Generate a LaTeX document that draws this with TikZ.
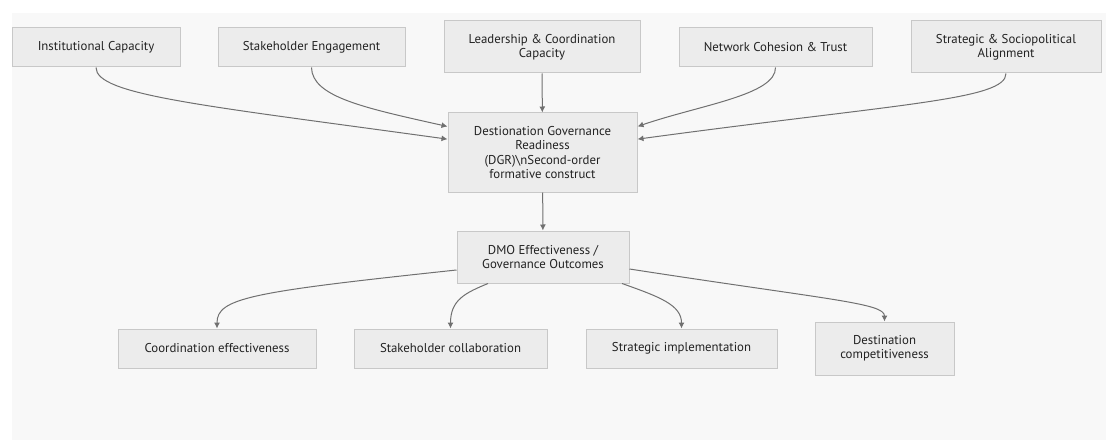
\documentclass[tikz,border=0pt]{standalone}
\usepackage{fontspec}
\setmainfont{PT Sans}
\usepackage{xcolor}
\usepackage{tikz}
\usetikzlibrary{arrows.meta,positioning,calc}

\definecolor{panel}{HTML}{F8F8F8}
\definecolor{boxfill}{HTML}{ECECEC}
\definecolor{boxline}{HTML}{C8C8C8}
\definecolor{edgeline}{HTML}{707070}
\definecolor{txt}{HTML}{222222}

\tikzset{
  box/.style 2 args={draw=boxline,fill=boxfill,line width=0.75pt,text=txt,align=center,
    inner sep=0pt,minimum width=#1,minimum height=#2,font=\fontsize{9.6}{10.6}\selectfont},
  edge/.style={draw=edgeline,line width=0.75pt,-{Latex[length=4.5pt,width=4.5pt]}},
}

\begin{document}
\begin{tikzpicture}[x=0.75pt,y=0.75pt]
	% canvas and grey panel
	\fill[white] (0,0) rectangle (1106,440);
	\fill[panel] (12,0) rectangle (1106,427);
	\useasboundingbox (0,0) rectangle (1106,440);

	% first-order dimensions
	\node[box={126pt}{29.25pt}] (inst) at (96,392.5) {Institutional Capacity};
	\node[box={140.25pt}{29.25pt}] (stake) at (311.5,392.5) {Stakeholder Engagement};
	\node[box={147pt}{39pt}] (lead) at (542,393) {Leadership \& Coordination\\Capacity};
	\node[box={144.75pt}{29.25pt}] (netw) at (775.5,392.5) {Network Cohesion \& Trust};
	\node[box={142.5pt}{39pt}] (strat) at (1006,393) {Strategic \& Sociopolitical\\Alignment};

	% second-order construct and outcome
	\node[box={141.75pt}{59.25pt}] (dgr) at (542.5,287.5) {Destionation Governance\\Readiness\\(DGR)\textbackslash nSecond-order\\formative construct};
	\node[box={129pt}{39pt}] (dmo) at (543,183) {DMO Effectiveness /\\Governance Outcomes};

	% outcome indicators
	\node[box={148.5pt}{29.25pt}] (coord) at (217,91.5) {Coordination effectiveness};
	\node[box={144.75pt}{29.25pt}] (collab) at (450.5,91.5) {Stakeholder collaboration};
	\node[box={143.25pt}{29.25pt}] (impl) at (681.5,91.5) {Strategic implementation};
	\node[box={104.25pt}{39.75pt}] (comp) at (884.5,91.5) {Destination\\competitiveness};

	% into DGR
	\draw[edge] (inst.south) .. controls (96,345) and (200,335) .. ([yshift=10pt]dgr.west);
	\draw[edge] (stake.south) .. controls (312,343) and (365,332) .. ([yshift=19.5pt]dgr.west);
	\draw[edge] (lead) -- (dgr);
	\draw[edge] (netw.south) .. controls (776,345) and (700,335) .. ([yshift=19.5pt]dgr.east);
	\draw[edge] (strat.south) .. controls (1006,340) and (900,336.5) .. ([yshift=10pt]dgr.east);

	\draw[edge] (dgr) -- (dmo);

	% out of DMO
	\draw[edge] ([yshift=-9.75pt]dmo.west) .. controls (250,148) and (217,142) .. (coord.north);
	\draw[edge] ([xshift=-41.25pt]dmo.south) .. controls (465,147) and (450.5,140) .. (collab.north);
	\draw[edge] ([xshift=59.25pt]dmo.south) .. controls (660,143) and (681.5,135) .. (impl.north);
	\draw[edge] ([yshift=-9pt]dmo.east) .. controls (830,140) and (884.5,137) .. (comp.north);
\end{tikzpicture}
\end{document}
